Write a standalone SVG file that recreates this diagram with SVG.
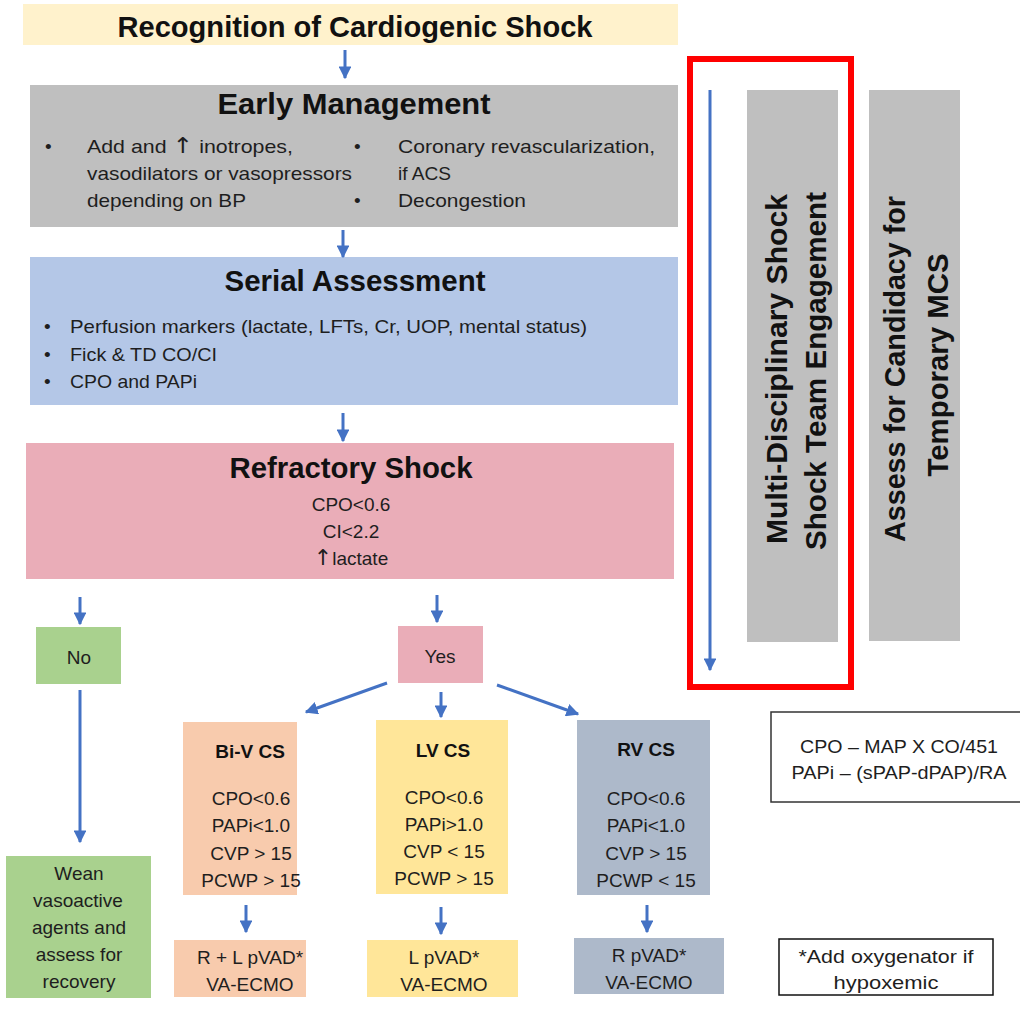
<svg xmlns="http://www.w3.org/2000/svg" width="1020" height="1016" viewBox="0 0 1020 1016">
<style>
text{font-family:"Liberation Sans",Arial,sans-serif;fill:#1e1e1e}
.h{font-weight:bold;font-size:30px;fill:#111;text-anchor:middle}
.hs{font-weight:bold;font-size:19px;fill:#111;text-anchor:middle}
.b{font-size:19px}
.c{font-size:19px;text-anchor:middle}
.v{font-weight:bold;font-size:29px;fill:#111;text-anchor:middle}
.up{font-family:"DejaVu Sans",sans-serif;font-size:22px}
.arr{stroke:#4472c4;stroke-width:3;fill:none;marker-end:url(#ah)}
</style>
<defs>
<marker id="ah" viewBox="0 0 10 10" refX="9" refY="5" markerWidth="4.3" markerHeight="4.3" orient="auto" markerUnits="strokeWidth">
<path d="M0,0 L10,5 L0,10 z" fill="#4472c4"/>
</marker>
</defs>
<rect width="1020" height="1016" fill="#fff"/>

<g id="recognition">
<rect x="23" y="4" width="655" height="41" fill="#fff2cc"/>
<text class="h" x="355" y="37" textLength="475" lengthAdjust="spacingAndGlyphs">Recognition of Cardiogenic Shock</text>
</g>

<g id="early-management">
<rect x="30" y="85" width="648" height="142" fill="#bfbfbf"/>
<text class="h" x="354" y="114" textLength="273" lengthAdjust="spacingAndGlyphs">Early Management</text>
<text class="b" x="45" y="153">•</text>
<text class="b" x="87" y="153" textLength="206" lengthAdjust="spacingAndGlyphs">Add and <tspan class="up">↑</tspan> inotropes,</text>
<text class="b" x="87" y="180" textLength="265" lengthAdjust="spacingAndGlyphs">vasodilators or vasopressors</text>
<text class="b" x="87" y="207" textLength="159" lengthAdjust="spacingAndGlyphs">depending on BP</text>
<text class="b" x="354" y="153">•</text>
<text class="b" x="398" y="153" textLength="257" lengthAdjust="spacingAndGlyphs">Coronary revascularization,</text>
<text class="b" x="398" y="180" textLength="53" lengthAdjust="spacingAndGlyphs">if ACS</text>
<text class="b" x="354" y="207">•</text>
<text class="b" x="398" y="207" textLength="128" lengthAdjust="spacingAndGlyphs">Decongestion</text>
</g>

<g id="serial-assessment">
<rect x="30" y="257" width="648" height="148" fill="#b4c7e7"/>
<text class="h" x="355" y="291" textLength="261" lengthAdjust="spacingAndGlyphs">Serial Assessment</text>
<text class="b" x="44" y="333">•</text>
<text class="b" x="70" y="333" textLength="517" lengthAdjust="spacingAndGlyphs">Perfusion markers (lactate, LFTs, Cr, UOP, mental status)</text>
<text class="b" x="44" y="361">•</text>
<text class="b" x="70" y="361" textLength="147" lengthAdjust="spacingAndGlyphs">Fick &amp; TD CO/CI</text>
<text class="b" x="44" y="388">•</text>
<text class="b" x="70" y="388" textLength="127" lengthAdjust="spacingAndGlyphs">CPO and PAPi</text>
</g>

<g id="refractory-shock">
<rect x="26" y="443" width="648" height="136" fill="#eaadb8"/>
<text class="h" x="351" y="478" textLength="243" lengthAdjust="spacingAndGlyphs">Refractory Shock</text>
<text class="c" x="351" y="511">CPO&lt;0.6</text>
<text class="c" x="351" y="538">CI&lt;2.2</text>
<text class="c" x="351" y="565"><tspan class="up">↑</tspan>lactate</text>
</g>

<g id="no">
<rect x="36" y="627" width="85" height="57" fill="#a9d18e"/>
<text class="c" x="79" y="664">No</text>
</g>

<g id="wean">
<rect x="6" y="856" width="145" height="142" fill="#a9d18e"/>
<text class="c" x="79" y="880">Wean</text>
<text class="c" x="78" y="907">vasoactive</text>
<text class="c" x="79" y="934">agents and</text>
<text class="c" x="79" y="961">assess for</text>
<text class="c" x="79" y="988">recovery</text>
</g>

<g id="yes">
<rect x="398" y="626" width="85" height="57" fill="#eaadb8"/>
<text class="c" x="440" y="663">Yes</text>
</g>

<g id="biv-cs">
<rect x="183" y="722" width="114" height="173" fill="#f8cbad"/>
<text class="hs" x="250" y="758">Bi-V CS</text>
<text class="c" x="251" y="805">CPO&lt;0.6</text>
<text class="c" x="251" y="832">PAPi&lt;1.0</text>
<text class="c" x="251" y="860">CVP &gt; 15</text>
<text class="c" x="251" y="887">PCWP &gt; 15</text>
</g>

<g id="lv-cs">
<rect x="376" y="720" width="132" height="174" fill="#ffe699"/>
<text class="hs" x="443" y="757">LV CS</text>
<text class="c" x="444" y="804">CPO&lt;0.6</text>
<text class="c" x="444" y="831">PAPi&gt;1.0</text>
<text class="c" x="444" y="858">CVP &lt; 15</text>
<text class="c" x="444" y="885">PCWP &gt; 15</text>
</g>

<g id="rv-cs">
<rect x="577" y="720" width="133" height="175" fill="#adb9ca"/>
<text class="hs" x="646" y="756">RV CS</text>
<text class="c" x="646" y="805">CPO&lt;0.6</text>
<text class="c" x="646" y="832">PAPi&lt;1.0</text>
<text class="c" x="646" y="860">CVP &gt; 15</text>
<text class="c" x="646" y="887">PCWP &lt; 15</text>
</g>

<g id="rl-pvad">
<rect x="174" y="940" width="132" height="57" fill="#f8cbad"/>
<text class="c" x="250" y="964">R + L pVAD*</text>
<text class="c" x="250" y="991">VA-ECMO</text>
</g>

<g id="l-pvad">
<rect x="367" y="940" width="151" height="57" fill="#ffe699"/>
<text class="c" x="444" y="964">L pVAD*</text>
<text class="c" x="444" y="991">VA-ECMO</text>
</g>

<g id="r-pvad">
<rect x="574" y="938" width="150" height="56" fill="#adb9ca"/>
<text class="c" x="649" y="962">R pVAD*</text>
<text class="c" x="649" y="989">VA-ECMO</text>
</g>

<g id="shock-team">
<rect x="747" y="90" width="91" height="552" fill="#bfbfbf"/>
<text class="v" transform="translate(787,369) rotate(-90)" textLength="350" lengthAdjust="spacingAndGlyphs">Multi-Disciplinary Shock</text>
<text class="v" transform="translate(826,371) rotate(-90)" textLength="358" lengthAdjust="spacingAndGlyphs">Shock Team Engagement</text>
</g>

<g id="assess-mcs">
<rect x="869" y="90" width="91" height="551" fill="#bfbfbf"/>
<text class="v" transform="translate(905,369) rotate(-90)" textLength="346" lengthAdjust="spacingAndGlyphs">Assess for Candidacy for</text>
<text class="v" transform="translate(948,365) rotate(-90)" textLength="223" lengthAdjust="spacingAndGlyphs">Temporary MCS</text>
</g>

<g id="red-frame">
<rect x="690" y="59" width="161" height="628" fill="none" stroke="#ff0000" stroke-width="6"/>
</g>

<g id="formula">
<rect x="771" y="712" width="260" height="90" fill="#fff" stroke="#333" stroke-width="1.5"/>
<text class="c" x="899" y="753" textLength="198" lengthAdjust="spacingAndGlyphs">CPO – MAP X CO/451</text>
<text class="c" x="899" y="779" textLength="215" lengthAdjust="spacingAndGlyphs">PAPi – (sPAP-dPAP)/RA</text>
</g>

<g id="note">
<rect x="779" y="939" width="214" height="56" fill="#fff" stroke="#111" stroke-width="1.5"/>
<text class="c" x="886" y="963" textLength="175" lengthAdjust="spacingAndGlyphs">*Add oxygenator if</text>
<text class="c" x="886" y="989" textLength="105" lengthAdjust="spacingAndGlyphs">hypoxemic</text>
</g>

<g id="connectors">
<line class="arr" x1="345" y1="50" x2="345" y2="78"/>
<line class="arr" x1="343" y1="230" x2="343" y2="257"/>
<line class="arr" x1="343" y1="413" x2="343" y2="441"/>
<line class="arr" x1="80" y1="597" x2="80" y2="624"/>
<line class="arr" x1="437" y1="595" x2="437" y2="622"/>
<line class="arr" x1="80" y1="690" x2="80" y2="842"/>
<line class="arr" x1="387" y1="683" x2="306" y2="712"/>
<line class="arr" x1="441" y1="692" x2="441" y2="717"/>
<line class="arr" x1="497" y1="685" x2="578" y2="714"/>
<line class="arr" x1="246" y1="905" x2="246" y2="932"/>
<line class="arr" x1="441" y1="907" x2="441" y2="934"/>
<line class="arr" x1="647" y1="905" x2="647" y2="932"/>
<line class="arr" x1="710" y1="90" x2="710" y2="670"/>
</g>
</svg>
